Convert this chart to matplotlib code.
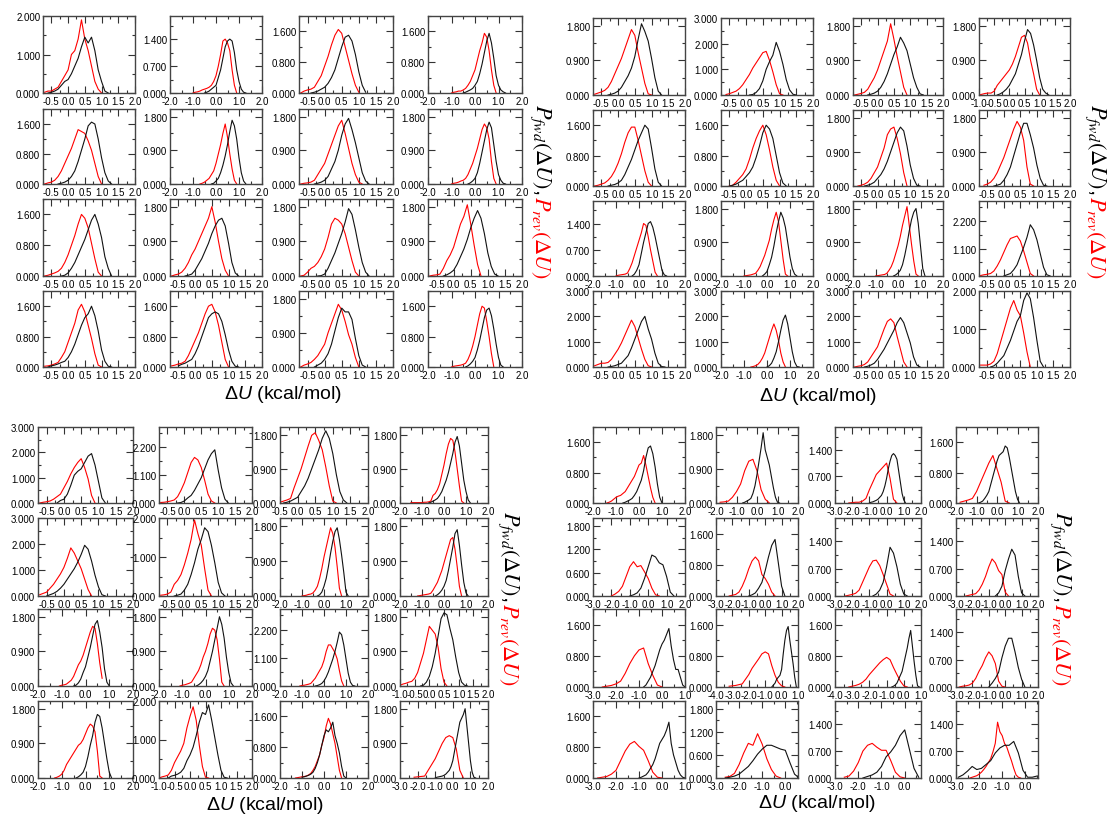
import matplotlib.pyplot as plt
import numpy as np
from matplotlib.ticker import MultipleLocator, FuncFormatter

plt.rcParams["font.family"] = ["Liberation Sans", "DejaVu Sans"]
plt.rcParams["mathtext.fontset"] = "custom"
plt.rcParams["mathtext.rm"] = "Liberation Sans"
plt.rcParams["mathtext.it"] = "Liberation Sans:italic"

# x ranges of the small plots: (left, right, major tick step)
A = (-0.75, 2.0, 0.5)
A2 = (-0.5, 2.0, 0.5)
B = (-2.0, 2.0, 1.0)
C = (-1.0, 2.0, 0.5)
D = (-3.0, 2.0, 1.0)
E = (-3.0, 1.0, 1.0)
F = (-4.0, 1.0, 1.0)
G1 = (-3.0, 0.55, 1.0)
G2 = (-3.0, 0.7, 1.0)

# ---------------- top left block ----------------
TL_X = [A, B, A, B, A, B, A, B, A, A, A, A, A, A, A, B]
# y axis: (major step, top)
TL_Y = [(1.0, 2), (0.7, 2), (0.8, 2), (0.8, 2),
        (0.8, 2), (0.9, 2), (0.9, 2), (0.9, 2),
        (0.8, 2), (0.9, 2), (0.9, 2), (0.9, 2),
        (0.8, 2), (0.8, 2), (0.9, 2), (0.8, 2)]
# histograms: (first dU, bin step, heights)
TL_FWD = [
    (-0.6, 0.1, [0.0, 0.02, 0.05, 0.1, 0.2, 0.3, 0.35, 0.5, 0.7, 0.9, 1.2, 1.45, 1.3, 1.45, 1.1, 0.6, 0.3, 0.05, 0.0]),
    (-0.5, 0.1, [0.0, 0.02, 0.05, 0.1, 0.15, 0.2, 0.4, 0.6, 0.9, 1.2, 1.35, 1.4, 1.35, 1.05, 0.6, 0.3, 0.1, 0.02, 0.0]),
    (-0.4, 0.1, [0.0, 0.02, 0.05, 0.1, 0.15, 0.25, 0.4, 0.6, 0.9, 1.2, 1.45, 1.5, 1.35, 1.0, 0.55, 0.2, 0.02]),
    (-0.5, 0.1, [0.0, 0.02, 0.05, 0.08, 0.12, 0.2, 0.3, 0.5, 0.75, 1.05, 1.35, 1.55, 1.3, 0.9, 0.45, 0.2, 0.08, 0.03, 0.0]),
    (-0.3, 0.1, [0.0, 0.02, 0.05, 0.1, 0.2, 0.35, 0.6, 0.9, 1.2, 1.55, 1.65, 1.6, 1.2, 0.7, 0.3, 0.08, 0.0]),
    (-0.2, 0.1, [0.0, 0.02, 0.08, 0.15, 0.3, 0.5, 0.75, 1.05, 1.4, 1.7, 1.55, 1.2, 0.7, 0.3, 0.08, 0.0]),
    (-0.3, 0.1, [0.0, 0.02, 0.05, 0.1, 0.2, 0.4, 0.6, 0.9, 1.3, 1.6, 1.75, 1.45, 1.1, 0.7, 0.3, 0.08, 0.0]),
    (-0.3, 0.1, [0.0, 0.03, 0.08, 0.15, 0.3, 0.55, 0.85, 1.15, 1.45, 1.65, 1.5, 1.05, 0.6, 0.25, 0.1, 0.02, 0.0]),
    (-0.2, 0.1, [0.0, 0.02, 0.08, 0.2, 0.35, 0.55, 0.75, 0.95, 1.2, 1.45, 1.6, 1.35, 1.0, 0.5, 0.2, 0.0]),
    (-0.3, 0.1, [0.0, 0.02, 0.05, 0.15, 0.3, 0.45, 0.65, 0.85, 1.1, 1.3, 1.45, 1.5, 1.3, 0.85, 0.35, 0.08, 0.0]),
    (-0.2, 0.1, [0.0, 0.01, 0.05, 0.2, 0.4, 0.6, 0.85, 1.1, 1.4, 1.75, 1.6, 1.2, 0.75, 0.35, 0.1, 0.0]),
    (-0.3, 0.1, [0.0, 0.03, 0.08, 0.15, 0.3, 0.5, 0.7, 0.95, 1.25, 1.5, 1.7, 1.5, 1.1, 0.6, 0.25, 0.05, 0.0]),
    (-0.6, 0.1, [0.0, 0.03, 0.05, 0.08, 0.12, 0.15, 0.25, 0.4, 0.6, 0.85, 1.1, 1.3, 1.4, 1.6, 1.35, 0.95, 0.45, 0.15, 0.02, 0.0]),
    (-0.5, 0.1, [0.03, 0.07, 0.1, 0.15, 0.2, 0.35, 0.55, 0.8, 1.05, 1.3, 1.4, 1.45, 1.4, 1.2, 0.85, 0.45, 0.15, 0.02, 0.0]),
    (-0.3, 0.1, [0.0, 0.05, 0.1, 0.2, 0.35, 0.6, 0.95, 1.3, 1.55, 1.45, 1.45, 1.25, 0.75, 0.3, 0.05, 0.0]),
    (-0.4, 0.1, [0.0, 0.03, 0.08, 0.15, 0.25, 0.45, 0.7, 1.0, 1.3, 1.5, 1.55, 1.35, 1.0, 0.6, 0.25, 0.05, 0.0]),
]
TL_REV = [
    (-0.7, 0.1, [0.02, 0.05, 0.05, 0.1, 0.15, 0.3, 0.45, 0.6, 1.0, 1.1, 1.4, 1.9, 1.4, 1.1, 0.7, 0.3, 0.1, 0.0]),
    (-1.0, 0.1, [0.0, 0.02, 0.03, 0.05, 0.08, 0.1, 0.12, 0.15, 0.2, 0.3, 0.45, 0.7, 1.0, 1.35, 1.4, 1.3, 1.1, 0.6, 0.2, 0.0]),
    (-0.7, 0.1, [0.0, 0.05, 0.08, 0.1, 0.15, 0.3, 0.45, 0.7, 0.95, 1.25, 1.5, 1.65, 1.55, 1.2, 0.85, 0.5, 0.2, 0.02]),
    (-1.0, 0.1, [0.0, 0.02, 0.03, 0.05, 0.05, 0.08, 0.12, 0.2, 0.3, 0.45, 0.6, 0.85, 1.1, 1.3, 1.55, 1.45, 1.1, 0.6, 0.2, 0.0]),
    (-0.7, 0.1, [0.0, 0.03, 0.05, 0.1, 0.2, 0.35, 0.55, 0.75, 0.95, 1.2, 1.45, 1.4, 1.35, 1.15, 0.9, 0.55, 0.2, 0.0]),
    (-0.7, 0.1, [0.0, 0.02, 0.05, 0.1, 0.15, 0.25, 0.35, 0.55, 0.8, 1.05, 1.35, 1.6, 1.25, 0.8, 0.4, 0.1, 0.0]),
    (-0.7, 0.1, [0.0, 0.02, 0.03, 0.05, 0.1, 0.25, 0.4, 0.55, 0.8, 1.05, 1.3, 1.55, 1.7, 1.35, 0.95, 0.55, 0.25, 0.05, 0.0]),
    (-1.0, 0.1, [0.0, 0.02, 0.03, 0.05, 0.08, 0.1, 0.15, 0.25, 0.4, 0.55, 0.75, 0.95, 1.2, 1.45, 1.6, 1.5, 1.2, 0.6, 0.15, 0.0]),
    (-0.7, 0.1, [0.0, 0.02, 0.05, 0.08, 0.12, 0.2, 0.35, 0.55, 0.8, 1.05, 1.35, 1.6, 1.5, 1.25, 0.85, 0.45, 0.1, 0.0]),
    (-0.7, 0.1, [0.0, 0.03, 0.05, 0.1, 0.2, 0.35, 0.55, 0.7, 0.9, 1.1, 1.3, 1.5, 1.8, 1.4, 0.9, 0.45, 0.15, 0.0]),
    (-0.7, 0.1, [0.0, 0.02, 0.1, 0.2, 0.25, 0.35, 0.5, 0.7, 1.0, 1.35, 1.5, 1.45, 1.35, 1.1, 0.75, 0.4, 0.1, 0.0]),
    (-0.7, 0.1, [0.0, 0.02, 0.03, 0.05, 0.2, 0.4, 0.55, 0.75, 1.05, 1.35, 1.55, 1.85, 1.35, 0.8, 0.3, 0.0]),
    (-0.7, 0.1, [0.02, 0.03, 0.05, 0.08, 0.12, 0.25, 0.4, 0.65, 0.9, 1.15, 1.5, 1.65, 1.45, 1.1, 0.75, 0.35, 0.05, 0.0]),
    (-0.7, 0.1, [0.03, 0.05, 0.08, 0.1, 0.15, 0.3, 0.5, 0.7, 0.9, 1.15, 1.4, 1.6, 1.65, 1.45, 1.1, 0.65, 0.2, 0.0]),
    (-0.7, 0.1, [0.0, 0.05, 0.08, 0.12, 0.2, 0.3, 0.45, 0.6, 0.9, 1.15, 1.4, 1.65, 1.5, 1.2, 0.85, 0.6, 0.25, 0.0]),
    (-1.0, 0.1, [0.0, 0.02, 0.03, 0.04, 0.05, 0.07, 0.1, 0.2, 0.35, 0.55, 0.8, 1.1, 1.4, 1.6, 1.55, 1.2, 0.8, 0.35, 0.0]),
]

# ---------------- top right block ----------------
TR_X = [A, A, A, C, A, A, A, A, B, B, B, A, A, B, A, A]
TR_Y = [(0.9, 2), (1.0, 3), (0.9, 2), (0.9, 2),
        (0.8, 2), (0.8, 2), (0.9, 2), (0.9, 2),
        (0.7, 2), (0.9, 2), (0.9, 2), (1.1, 3),
        (1.0, 3), (1.0, 3), (1.0, 3), (1.0, 2)]
TR_FWD = [
    (-0.3, 0.1, [0.0, 0.02, 0.05, 0.1, 0.2, 0.35, 0.5, 0.7, 1.0, 1.45, 1.85, 1.65, 1.4, 0.95, 0.45, 0.1, 0.0]),
    (0.1, 0.1, [0.0, 0.02, 0.1, 0.25, 0.55, 1.0, 1.3, 1.55, 2.05, 1.7, 1.2, 0.6, 0.2, 0.03, 0.0]),
    (-0.3, 0.1, [0.0, 0.02, 0.05, 0.1, 0.2, 0.35, 0.55, 0.8, 1.05, 1.25, 1.5, 1.35, 1.15, 0.8, 0.45, 0.2, 0.03, 0.0]),
    (-0.4, 0.1, [0.0, 0.03, 0.08, 0.15, 0.25, 0.4, 0.55, 0.8, 1.05, 1.4, 1.7, 1.6, 1.3, 0.9, 0.45, 0.15, 0.05, 0.0]),
    (-0.3, 0.1, [0.0, 0.02, 0.04, 0.08, 0.15, 0.3, 0.5, 0.7, 0.95, 1.2, 1.4, 1.6, 1.5, 1.0, 0.45, 0.1, 0.0]),
    (-0.5, 0.1, [0.0, 0.02, 0.05, 0.1, 0.15, 0.25, 0.35, 0.5, 0.75, 1.05, 1.4, 1.6, 1.5, 1.25, 0.8, 0.35, 0.08, 0.0]),
    (-0.4, 0.1, [0.0, 0.02, 0.05, 0.1, 0.2, 0.3, 0.45, 0.65, 0.9, 1.15, 1.4, 1.55, 1.45, 1.05, 0.55, 0.2, 0.02, 0.0]),
    (-0.3, 0.1, [0.0, 0.02, 0.05, 0.15, 0.3, 0.5, 0.8, 1.1, 1.4, 1.65, 1.65, 1.35, 1.0, 0.55, 0.2, 0.02, 0.0]),
    (-0.3, 0.1, [0.0, 0.05, 0.15, 0.3, 0.6, 0.9, 1.15, 1.4, 1.45, 1.3, 1.05, 0.75, 0.45, 0.15, 0.03, 0.0]),
    (-0.2, 0.1, [0.0, 0.05, 0.12, 0.3, 0.5, 0.8, 1.15, 1.45, 1.7, 1.55, 1.3, 0.9, 0.5, 0.2, 0.05, 0.0]),
    (-0.2, 0.1, [0.0, 0.03, 0.08, 0.15, 0.3, 0.55, 0.85, 1.2, 1.5, 1.7, 1.8, 1.4, 0.8, 0.2, 0.0]),
    (0.0, 0.1, [0.0, 0.05, 0.1, 0.25, 0.45, 0.8, 1.15, 1.55, 2.05, 1.85, 1.45, 0.9, 0.35, 0.05, 0.0]),
    (-0.3, 0.1, [0.0, 0.02, 0.05, 0.1, 0.15, 0.3, 0.45, 0.75, 1.1, 1.45, 1.8, 2.0, 1.5, 1.1, 0.55, 0.15, 0.02, 0.0]),
    (0.0, 0.1, [0.0, 0.05, 0.15, 0.35, 0.6, 1.0, 1.45, 1.85, 2.05, 1.7, 1.15, 0.6, 0.2, 0.02, 0.0]),
    (-0.4, 0.1, [0.0, 0.03, 0.08, 0.15, 0.3, 0.5, 0.7, 0.95, 1.2, 1.45, 1.75, 1.95, 1.75, 1.35, 0.95, 0.4, 0.08, 0.0]),
    (-0.4, 0.1, [0.0, 0.03, 0.1, 0.2, 0.3, 0.5, 0.7, 0.95, 1.2, 1.35, 1.75, 1.95, 1.8, 1.3, 0.7, 0.15, 0.0]),
]
TR_REV = [
    (-0.7, 0.1, [0.02, 0.05, 0.08, 0.12, 0.2, 0.35, 0.55, 0.75, 0.95, 1.2, 1.45, 1.7, 1.55, 1.1, 0.7, 0.3, 0.03, 0.0]),
    (-0.6, 0.1, [0.02, 0.05, 0.1, 0.15, 0.25, 0.4, 0.6, 0.8, 1.05, 1.25, 1.45, 1.65, 1.7, 1.35, 0.9, 0.4, 0.05, 0.0]),
    (-0.7, 0.1, [0.0, 0.02, 0.04, 0.07, 0.15, 0.3, 0.45, 0.65, 0.9, 1.15, 1.4, 1.85, 1.45, 1.0, 0.6, 0.2, 0.0]),
    (-1.0, 0.1, [0.0, 0.02, 0.04, 0.05, 0.05, 0.1, 0.25, 0.35, 0.45, 0.55, 0.65, 0.8, 1.0, 1.25, 1.5, 1.55, 1.35, 0.9, 0.55, 0.15, 0.0]),
    (-0.7, 0.1, [0.0, 0.02, 0.05, 0.08, 0.15, 0.25, 0.4, 0.6, 0.85, 1.15, 1.4, 1.55, 1.55, 1.2, 0.8, 0.4, 0.1, 0.0]),
    (-0.5, 0.1, [0.0, 0.02, 0.1, 0.2, 0.3, 0.45, 0.7, 1.0, 1.25, 1.45, 1.6, 1.35, 0.95, 0.5, 0.15, 0.0]),
    (-0.6, 0.1, [0.0, 0.02, 0.05, 0.1, 0.2, 0.35, 0.5, 0.75, 1.0, 1.35, 1.5, 1.55, 1.25, 0.85, 0.35, 0.0]),
    (-0.6, 0.1, [0.02, 0.05, 0.1, 0.2, 0.35, 0.55, 0.75, 1.0, 1.25, 1.5, 1.7, 1.55, 1.2, 0.5, 0.05, 0.0]),
    (-1.0, 0.1, [0.0, 0.02, 0.03, 0.04, 0.05, 0.08, 0.2, 0.35, 0.55, 0.75, 0.95, 1.15, 1.4, 1.35, 1.05, 0.7, 0.4, 0.1, 0.0]),
    (-1.0, 0.1, [0.0, 0.01, 0.02, 0.03, 0.05, 0.07, 0.15, 0.25, 0.4, 0.55, 0.75, 0.95, 1.25, 1.5, 1.7, 1.45, 0.95, 0.45, 0.05, 0.0]),
    (-1.0, 0.1, [0.0, 0.01, 0.02, 0.03, 0.04, 0.07, 0.15, 0.25, 0.4, 0.6, 0.8, 1.05, 1.35, 1.6, 1.85, 1.35, 0.85, 0.4, 0.05, 0.0]),
    (-0.7, 0.1, [0.02, 0.05, 0.07, 0.1, 0.2, 0.4, 0.65, 0.95, 1.25, 1.5, 1.55, 1.6, 1.4, 1.0, 0.55, 0.1, 0.0]),
    (-0.7, 0.1, [0.05, 0.1, 0.15, 0.15, 0.18, 0.3, 0.5, 0.7, 0.95, 1.25, 1.55, 1.85, 1.6, 1.15, 0.7, 0.3, 0.05, 0.0]),
    (-0.7, 0.1, [0.0, 0.02, 0.05, 0.1, 0.2, 0.35, 0.55, 0.85, 1.15, 1.45, 1.7, 1.45, 1.05, 0.55, 0.2, 0.0]),
    (-0.7, 0.1, [0.0, 0.03, 0.05, 0.1, 0.2, 0.4, 0.6, 0.8, 1.15, 1.5, 1.8, 1.9, 1.75, 1.2, 0.7, 0.2, 0.0]),
    (-0.7, 0.1, [0.05, 0.05, 0.05, 0.08, 0.15, 0.35, 0.65, 0.95, 1.25, 1.55, 1.75, 1.5, 1.35, 0.9, 0.4, 0.0]),
]

# ---------------- bottom left block ----------------
BL_X = [A, A, A2, B, A, A, B, B, B, B, B, C, B, C, B, D]
BL_Y = [(1.0, 3), (1.1, 3), (0.9, 2), (0.9, 2),
        (1.0, 3), (1.0, 2), (0.9, 2), (0.9, 2),
        (0.9, 2), (0.9, 2), (1.1, 3), (0.9, 2),
        (0.9, 2), (1.0, 2), (0.8, 2), (0.9, 2)]
BL_FWD = [
    (-0.2, 0.1, [0.0, 0.1, 0.15, 0.35, 0.7, 1.1, 1.25, 1.35, 1.6, 1.85, 1.95, 1.5, 0.85, 0.2, 0.0]),
    (-0.2, 0.1, [0.0, 0.02, 0.08, 0.2, 0.3, 0.5, 0.75, 1.0, 1.35, 1.7, 1.95, 2.1, 1.3, 0.6, 0.15, 0.0]),
    (-0.4, 0.1, [0.0, 0.02, 0.05, 0.1, 0.15, 0.3, 0.45, 0.65, 0.9, 1.15, 1.4, 1.7, 1.9, 1.7, 1.3, 0.75, 0.3, 0.08, 0.0]),
    (-0.7, 0.1, [0.0, 0.02, 0.05, 0.08, 0.12, 0.2, 0.3, 0.45, 0.6, 0.8, 1.05, 1.3, 1.6, 1.75, 1.5, 1.05, 0.6, 0.3, 0.08, 0.0]),
    (-0.5, 0.1, [0.0, 0.05, 0.1, 0.18, 0.3, 0.45, 0.65, 0.85, 1.05, 1.3, 1.6, 1.95, 1.8, 1.35, 0.8, 0.35, 0.05, 0.0]),
    (-0.3, 0.1, [0.0, 0.02, 0.05, 0.15, 0.3, 0.55, 0.85, 1.2, 1.45, 1.75, 1.65, 1.3, 0.85, 0.35, 0.08, 0.0]),
    (-0.3, 0.1, [0.0, 0.03, 0.1, 0.25, 0.45, 0.75, 1.1, 1.4, 1.65, 1.75, 1.45, 1.05, 0.6, 0.1, 0.0]),
    (-0.4, 0.1, [0.0, 0.03, 0.08, 0.15, 0.25, 0.4, 0.65, 0.95, 1.25, 1.6, 1.7, 1.3, 0.8, 0.35, 0.08, 0.0]),
    (-0.5, 0.1, [0.0, 0.02, 0.08, 0.18, 0.35, 0.5, 0.75, 1.0, 1.3, 1.6, 1.7, 1.4, 1.0, 0.45, 0.1, 0.0]),
    (-0.4, 0.1, [0.0, 0.03, 0.08, 0.15, 0.25, 0.4, 0.65, 0.9, 1.2, 1.5, 1.8, 1.6, 1.25, 0.75, 0.35, 0.08, 0.0]),
    (-0.4, 0.1, [0.0, 0.02, 0.05, 0.1, 0.2, 0.35, 0.55, 0.8, 1.05, 1.35, 1.7, 2.1, 2.0, 1.6, 1.05, 0.5, 0.15, 0.02, 0.0]),
    (-0.3, 0.1, [0.0, 0.02, 0.1, 0.25, 0.5, 0.85, 1.3, 1.75, 1.9, 1.85, 1.5, 1.2, 0.75, 0.35, 0.1, 0.02, 0.0]),
    (-0.4, 0.1, [0.0, 0.03, 0.08, 0.15, 0.3, 0.55, 0.85, 1.1, 1.45, 1.65, 1.6, 1.3, 0.9, 0.5, 0.15, 0.0]),
    (-0.7, 0.1, [0.0, 0.05, 0.07, 0.1, 0.15, 0.25, 0.45, 0.6, 0.8, 1.1, 1.45, 1.7, 1.65, 1.9, 1.5, 1.05, 0.6, 0.2, 0.02, 0.0]),
    (-1.0, 0.1, [0.02, 0.03, 0.05, 0.07, 0.1, 0.15, 0.25, 0.4, 0.6, 0.85, 1.1, 1.25, 1.2, 1.3, 1.45, 1.1, 0.9, 0.65, 0.3, 0.05, 0.0]),
    (-1.0, 0.1, [0.0, 0.02, 0.03, 0.04, 0.05, 0.07, 0.1, 0.15, 0.2, 0.3, 0.45, 0.7, 0.95, 1.2, 1.45, 1.55, 1.65, 1.8, 1.35, 0.9, 0.45, 0.15, 0.02, 0.0]),
]
BL_REV = [
    (-0.7, 0.1, [0.0, 0.03, 0.05, 0.08, 0.15, 0.25, 0.35, 0.6, 0.85, 1.15, 1.4, 1.6, 1.75, 1.4, 0.95, 0.3, 0.0]),
    (-0.7, 0.1, [0.02, 0.03, 0.05, 0.08, 0.12, 0.25, 0.5, 0.8, 1.2, 1.6, 1.8, 1.7, 1.4, 0.9, 0.35, 0.08, 0.0]),
    (-0.5, 0.1, [0.02, 0.05, 0.08, 0.12, 0.4, 0.65, 0.9, 1.2, 1.5, 1.78, 1.85, 1.65, 1.4, 0.95, 0.45, 0.05, 0.0]),
    (-1.5, 0.1, [0.01, 0.01, 0.01, 0.01, 0.01, 0.01, 0.02, 0.02, 0.03, 0.05, 0.2, 0.25, 0.35, 0.5, 0.75, 1.0, 1.3, 1.55, 1.7, 1.65, 1.35, 0.9, 0.45, 0.05, 0.0]),
    (-0.7, 0.1, [0.05, 0.1, 0.15, 0.3, 0.45, 0.65, 0.85, 1.1, 1.45, 1.85, 1.65, 1.35, 1.05, 0.65, 0.25, 0.0]),
    (-0.7, 0.1, [0.02, 0.03, 0.05, 0.1, 0.3, 0.4, 0.55, 0.8, 1.1, 1.45, 1.95, 1.6, 1.3, 0.7, 0.15, 0.0]),
    (-1.0, 0.1, [0.0, 0.01, 0.02, 0.04, 0.05, 0.08, 0.15, 0.25, 0.45, 0.7, 1.0, 1.25, 1.5, 1.75, 1.6, 1.25, 0.75, 0.2, 0.0]),
    (-1.2, 0.1, [0.0, 0.01, 0.02, 0.03, 0.04, 0.05, 0.07, 0.15, 0.25, 0.35, 0.5, 0.65, 0.85, 1.05, 1.25, 1.45, 1.5, 1.2, 0.75, 0.25, 0.0]),
    (-1.1, 0.1, [0.0, 0.02, 0.03, 0.05, 0.1, 0.15, 0.25, 0.4, 0.55, 0.65, 0.8, 1.0, 1.2, 1.4, 1.55, 1.5, 1.1, 0.6, 0.2]),
    (-1.1, 0.1, [0.0, 0.02, 0.03, 0.05, 0.07, 0.1, 0.2, 0.3, 0.4, 0.55, 0.75, 0.9, 1.1, 1.35, 1.5, 1.45, 1.2, 0.7, 0.1, 0.0]),
    (-1.1, 0.1, [0.0, 0.02, 0.03, 0.05, 0.07, 0.1, 0.2, 0.3, 0.45, 0.6, 0.75, 1.0, 1.35, 1.6, 1.6, 1.45, 1.3, 1.05, 0.6, 0.2, 0.0]),
    (-1.0, 0.1, [0.02, 0.05, 0.07, 0.1, 0.12, 0.2, 0.35, 0.6, 0.85, 1.2, 1.55, 1.45, 1.35, 1.0, 0.45, 0.1, 0.0]),
    (-1.3, 0.1, [0.0, 0.02, 0.05, 0.1, 0.2, 0.35, 0.45, 0.55, 0.65, 0.75, 0.85, 0.9, 1.0, 1.15, 1.3, 1.4, 1.35, 1.2, 0.7, 0.05, 0.0]),
    (-1.0, 0.1, [0.0, 0.03, 0.05, 0.08, 0.2, 0.4, 0.55, 0.7, 0.9, 1.3, 1.6, 1.85, 1.5, 0.85, 0.3, 0.02, 0.0]),
    (-1.3, 0.1, [0.0, 0.01, 0.02, 0.03, 0.04, 0.05, 0.08, 0.12, 0.2, 0.3, 0.45, 0.6, 0.85, 1.05, 1.35, 1.55, 1.4, 1.15, 0.9, 0.55, 0.2, 0.0]),
    (-2.2, 0.2, [0.02, 0.03, 0.04, 0.05, 0.2, 0.35, 0.5, 0.7, 0.9, 1.05, 1.1, 1.05, 0.75, 0.2, 0.0]),
]

# ---------------- bottom right block ----------------
BR_X = [B, B, D, B, D, D, D, D, E, F, F, D, E, G1, G2, G1]
BR_Y = [(0.8, 2), (0.9, 2), (0.7, 2), (0.8, 2),
        (0.6, 2), (0.8, 2), (0.7, 2), (0.7, 2),
        (0.8, 2), (0.8, 2), (0.8, 2), (0.7, 2),
        (0.8, 2), (0.6, 2), (0.7, 2), (0.7, 2)]
BR_FWD = [
    (-0.7, 0.1, [0.0, 0.02, 0.05, 0.08, 0.12, 0.2, 0.3, 0.45, 0.6, 0.85, 1.2, 1.45, 1.5, 1.3, 0.95, 0.5, 0.15, 0.0]),
    (-0.7, 0.1, [0.0, 0.02, 0.05, 0.08, 0.12, 0.25, 0.45, 0.75, 1.1, 1.45, 1.85, 1.4, 1.2, 1.0, 0.7, 0.4, 0.15, 0.02, 0.0]),
    (-1.0, 0.1, [0.0, 0.02, 0.03, 0.05, 0.07, 0.1, 0.15, 0.2, 0.3, 0.45, 0.65, 0.9, 1.1, 1.25, 1.3, 1.25, 1.15, 0.85, 0.55, 0.25, 0.08, 0.0]),
    (-0.9, 0.1, [0.0, 0.02, 0.05, 0.12, 0.2, 0.3, 0.5, 0.7, 0.9, 1.1, 1.25, 1.3, 1.35, 1.5, 1.45, 1.2, 0.9, 0.6, 0.3, 0.1, 0.0]),
    (-1.0, 0.2, [0.0, 0.03, 0.08, 0.2, 0.45, 0.75, 1.05, 1.0, 0.85, 0.8, 0.5, 0.1, 0.0]),
    (-1.0, 0.2, [0.0, 0.03, 0.08, 0.2, 0.35, 0.65, 1.0, 1.3, 1.45, 0.85, 0.25, 0.0]),
    (-0.8, 0.2, [0.0, 0.05, 0.15, 0.35, 0.75, 1.25, 1.1, 0.75, 0.3, 0.05, 0.0]),
    (-0.6, 0.2, [0.0, 0.08, 0.25, 0.65, 0.95, 1.2, 1.05, 0.5, 0.08, 0.0]),
    (-0.8, 0.1, [0.0, 0.05, 0.15, 0.25, 0.4, 0.55, 0.75, 0.95, 1.1, 1.2, 1.35, 1.5, 1.05, 0.7, 0.45, 0.45, 0.25, 0.05, 0.0]),
    (-0.6, 0.1, [0.0, 0.05, 0.1, 0.2, 0.25, 0.3, 0.45, 0.85, 1.2, 1.45, 1.55, 1.2, 0.9, 0.6, 0.25, 0.0]),
    (-0.7, 0.1, [0.0, 0.02, 0.05, 0.1, 0.2, 0.3, 0.4, 0.6, 0.8, 1.0, 1.25, 1.45, 1.05, 0.65, 0.3, 0.03, 0.0]),
    (-1.0, 0.2, [0.0, 0.1, 0.22, 0.38, 0.75, 1.05, 1.25, 1.25, 0.9, 0.5, 0.2, 0.0]),
    (-1.0, 0.1, [0.0, 0.02, 0.05, 0.08, 0.15, 0.25, 0.35, 0.5, 0.7, 0.9, 1.0, 1.1, 1.25, 1.45, 0.9, 0.6, 0.4, 0.2, 0.08, 0.02, 0.0]),
    (-2.6, 0.2, [0.0, 0.02, 0.05, 0.1, 0.2, 0.3, 0.45, 0.62, 0.75, 0.85, 0.85, 0.8, 0.75, 0.72, 0.4, 0.1, 0.0]),
    (-1.8, 0.2, [0.0, 0.04, 0.08, 0.15, 0.3, 0.55, 0.68, 0.85, 1.1, 1.25, 0.75, 0.25, 0.02]),
    (-2.9, 0.2, [0.02, 0.08, 0.18, 0.3, 0.22, 0.25, 0.35, 0.45, 0.65, 0.78, 0.85, 0.85, 0.95, 0.65, 0.2, 0.02, 0.02, 0.05]),
]
BR_REV = [
    (-1.4, 0.1, [0.0, 0.02, 0.05, 0.1, 0.15, 0.18, 0.2, 0.25, 0.3, 0.4, 0.5, 0.6, 0.7, 0.85, 1.0, 1.05, 1.25, 1.0, 0.7, 0.4, 0.15, 0.0]),
    (-1.8, 0.2, [0.02, 0.03, 0.05, 0.15, 0.3, 0.5, 0.85, 1.1, 1.15, 0.85, 0.35, 0.1, 0.0]),
    (-2.2, 0.2, [0.0, 0.01, 0.02, 0.02, 0.05, 0.12, 0.35, 0.55, 0.75, 0.85, 0.95, 1.05, 0.65, 0.1, 0.0]),
    (-1.8, 0.2, [0.02, 0.05, 0.08, 0.12, 0.3, 0.55, 0.8, 1.05, 1.25, 0.9, 0.55, 0.05, 0.0]),
    (-2.0, 0.2, [0.0, 0.05, 0.12, 0.25, 0.5, 0.75, 0.88, 0.75, 0.78, 0.62, 0.45, 0.2, 0.03, 0.0]),
    (-2.2, 0.2, [0.0, 0.02, 0.04, 0.1, 0.25, 0.45, 0.7, 0.9, 1.0, 0.9, 0.55, 0.45, 0.3, 0.1, 0.0]),
    (-2.4, 0.2, [0.0, 0.02, 0.04, 0.07, 0.15, 0.35, 0.55, 0.75, 0.9, 0.92, 0.78, 0.55, 0.3, 0.05, 0.0]),
    (-2.4, 0.2, [0.0, 0.02, 0.04, 0.06, 0.15, 0.3, 0.5, 0.75, 0.95, 0.85, 0.65, 0.55, 0.1, 0.0]),
    (-2.6, 0.2, [0.0, 0.02, 0.04, 0.08, 0.15, 0.35, 0.6, 0.8, 0.95, 1.0, 0.6, 0.3, 0.05, 0.0]),
    (-3.2, 0.2, [0.02, 0.03, 0.04, 0.06, 0.08, 0.2, 0.32, 0.48, 0.6, 0.72, 0.85, 0.9, 0.85, 0.55, 0.3, 0.12, 0.03, 0.0]),
    (-3.2, 0.2, [0.0, 0.02, 0.04, 0.07, 0.12, 0.2, 0.32, 0.42, 0.52, 0.62, 0.7, 0.76, 0.7, 0.5, 0.32, 0.15, 0.03, 0.0]),
    (-2.8, 0.2, [0.0, 0.02, 0.03, 0.05, 0.1, 0.22, 0.4, 0.55, 0.75, 0.9, 0.8, 0.6, 0.15, 0.02, 0.0]),
    (-2.8, 0.2, [0.0, 0.02, 0.04, 0.1, 0.2, 0.45, 0.7, 0.88, 0.95, 0.82, 0.72, 0.45, 0.15, 0.02, 0.0]),
    (-2.6, 0.2, [0.02, 0.04, 0.12, 0.35, 0.65, 0.9, 0.85, 1.15, 0.88, 0.5, 0.22, 0.05, 0.0]),
    (-2.6, 0.2, [0.02, 0.05, 0.18, 0.4, 0.7, 0.85, 0.9, 0.8, 0.72, 0.72, 0.45, 0.15, 0.03, 0.0]),
    (-2.4, 0.1, [0.0, 0.02, 0.04, 0.06, 0.1, 0.15, 0.22, 0.3, 0.4, 0.5, 0.68, 0.9, 1.45, 1.2, 1.1, 0.9, 0.8, 0.62, 0.45, 0.25, 0.08, 0.02, 0.0]),
]

W, H = 1107, 820
fig = plt.figure(figsize=(W / 100, H / 100), dpi=100)


def xfmt(v, pos):
    if abs(v) < 1e-9:
        v = 0.0
    return f"{v:.1f}"


def draw_block(lefts, widths, tops, heights, xr, yr, fwd, rev):
    for i in range(16):
        r, c = divmod(i, 4)
        ax = fig.add_axes([lefts[c] / W, 1 - (tops[r] + heights[r]) / H,
                           widths[c] / W, heights[r] / H])
        for (x0, dx, vals), col in ((rev[i], "#ff0000"), (fwd[i], "#111111")):
            x = x0 + dx * np.arange(len(vals))
            ax.plot(x, vals, color=col, lw=0.8)
        lo, hi, step = xr[i]
        ax.set_xlim(lo, hi)
        ax.xaxis.set_major_locator(MultipleLocator(step))
        ax.xaxis.set_minor_locator(MultipleLocator(step / 2))
        ax.xaxis.set_major_formatter(FuncFormatter(xfmt))
        ystep, ytop = yr[i]
        ax.set_ylim(0, ytop)
        ax.set_yticks(np.arange(0, ytop + 1e-6, ystep))
        ax.yaxis.set_minor_locator(MultipleLocator(ystep / 2))
        ax.yaxis.set_major_formatter(FuncFormatter(lambda v, p: f"{v:.3f}"))
        ax.tick_params(which="both", direction="in", top=True, right=True,
                       labelsize=7, pad=2, width=0.8, color="#333333")
        ax.tick_params(which="major", length=5)
        ax.tick_params(which="minor", length=2.5)
        for s in ax.spines.values():
            s.set_linewidth(1.0)
            s.set_color("#444444")


def add_labels(xc, yc, yx, ymid):
    fig.text(xc / W, 1 - yc / H, r"$\Delta\mathit{U}$ (kcal/mol)", fontsize=14,
             ha="center", va="center")
    fig.text(yx / W, 1 - ymid / H, r"$P_{fwd}(\Delta U)$, ", fontsize=16,
             rotation=270, ha="center", va="bottom", math_fontfamily="stix")
    fig.text(yx / W, 1 - ymid / H, r"$P_{rev}(\Delta U)$", fontsize=16, color="#ff0000",
             rotation=270, ha="center", va="top", math_fontfamily="stix")


draw_block([43, 170, 299, 428], [92, 92, 94, 94], [17, 110, 200, 292], [77, 75, 77, 76],
           TL_X, TL_Y, TL_FWD, TL_REV)
draw_block([593, 721, 853, 979], [92, 92, 90, 91], [19, 111, 202, 292], [77, 76, 75, 76],
           TR_X, TR_Y, TR_FWD, TR_REV)
draw_block([38, 159, 280, 400], [95, 93, 88, 88], [428, 519, 610, 702], [76, 78, 77, 77],
           BL_X, BL_Y, BL_FWD, BL_REV)
draw_block([593, 716, 835, 956], [92, 82, 86, 82], [428, 519, 610, 702], [76, 78, 78, 77],
           BR_X, BR_Y, BR_FWD, BR_REV)

add_labels(283, 395, 540, 196)
add_labels(818, 397, 1095, 196)
add_labels(265, 806, 508, 603)
add_labels(817, 804, 1060, 603)

plt.savefig("out.png", dpi=100)
